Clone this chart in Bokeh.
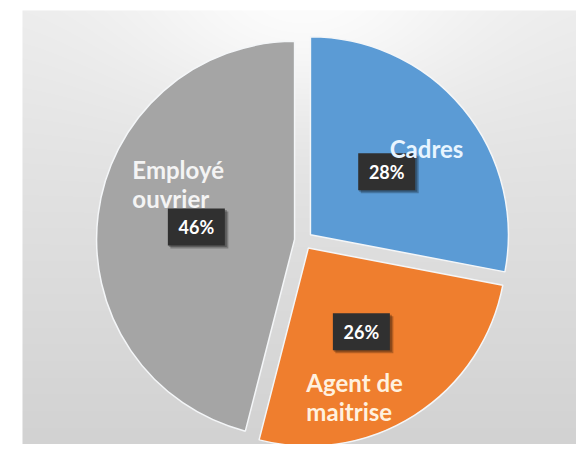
import numpy as np
from bokeh.plotting import figure
from bokeh.models import Range1d
from bokeh.core.properties import value
from bokeh.embed import file_html
from bokeh.resources import INLINE

# ---- data ----
categories = ["Cadres", "Agent de maitrise", "Employé ouvrier"]
shares = [28, 26, 46]
pct_labels = ["28%", "26%", "46%"]
name_lines = [["Cadres"], ["Agent de", "maitrise"], ["Employé", "ouvrier"]]

# ---- style ----
colors = ["#5b9bd5", "#ef7e2e", "#a5a5a5"]
name_colors = ["#e8f5ff", "#fff1df", "#f4f4f4"]
# offsets (screen px, relative to percent box centre) of each name line: (dx, dy down)
name_offsets = [[(3, -23)], [(-55, 51), (-55, 80)], [(-64, -57), (-64, -28)]]

W, H = 576, 444

def ys(y_screen):
    return H - y_screen

p = figure(width=W, height=H, output_backend="svg", toolbar_location=None,
           x_range=Range1d(0, W), y_range=Range1d(0, H),
           min_border=0, outline_line_color=None)
p.axis.visible = False
p.grid.visible = False
p.background_fill_color = "white"
p.border_fill_color = "white"

# background gradient panel
bx0, by0 = 22, 10
bw, bh = W - bx0, H - by0
xx, yy = np.meshgrid(np.arange(bw) + bx0, np.arange(bh) + by0)
val = 236 - 26 * (yy - by0) / bh + 16 * np.exp(-((xx - 303) / 170.0) ** 2 - ((yy - 10) / 110.0) ** 2)
val = np.clip(val, 0, 255).astype(np.uint32)
img = (255 << 24) | (val << 16) | (val << 8) | val
img = img[::-1, :].astype(np.uint32)
p.image_rgba(image=[img], x=bx0, y=0, dw=bw, dh=bh)

# pie geometry
cx, cy = 303, ys(240)
r = 198
explode = 9

total = float(sum(shares))
cum = np.cumsum([0] + shares) / total * 2 * np.pi   # clockwise from top
for i, cat in enumerate(categories):
    t0, t1 = cum[i], cum[i + 1]
    tm = (t0 + t1) / 2
    vx = cx + explode * np.sin(tm)
    vy = cy + explode * np.cos(tm)
    p.wedge(x=vx, y=vy, radius=r,
            start_angle=np.pi / 2 - t0, end_angle=np.pi / 2 - t1,
            direction="clock", fill_color=colors[i],
            line_color="#f4f6f8", line_width=1.5)

    # percent box
    bxc = vx + 0.5 * r * np.sin(tm)
    byc = vy + 0.5 * r * np.cos(tm)
    p.rect(x=bxc + 3, y=byc - 3, width=58, height=37, fill_color="black",
           fill_alpha=0.25, line_color=None)
    p.rect(x=bxc + 1.5, y=byc - 1.5, width=58, height=37, fill_color="black",
           fill_alpha=0.25, line_color=None)
    p.rect(x=bxc, y=byc, width=57, height=37, fill_color="#303030",
           line_color=None)
    p.text(x=bxc, y=byc, text=[pct_labels[i]], text_align="center",
           text_baseline="middle", text_color="white",
           text_font=value("Lato"), text_font_style="bold",
           text_font_size="18px")

    for line, (dx, dy) in zip(name_lines[i], name_offsets[i]):
        p.text(x=bxc + dx, y=byc - dy, text=[line], text_align="left",
               text_baseline="alphabetic", text_color=name_colors[i],
               text_font=value("Lato"), text_font_style="bold",
               text_font_size="24px")

open("out.html", "w").write(file_html(p, INLINE))
